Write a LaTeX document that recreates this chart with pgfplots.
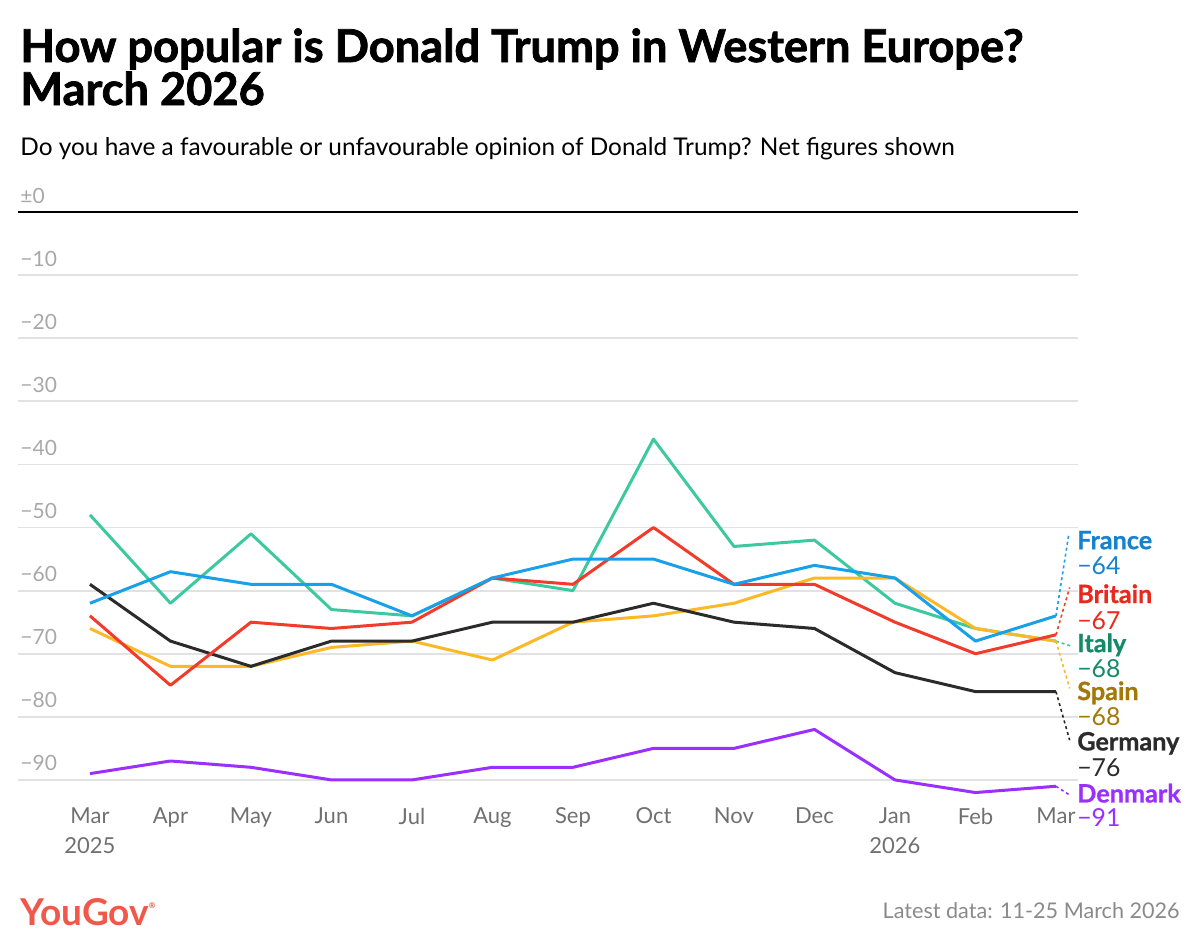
\documentclass[border=0pt]{standalone}
\usepackage{pgfplots}
\pgfplotsset{compat=1.18}
\usepackage{fontspec}
\setmainfont{Lato}
\newfontfamily\heavyfont{Lato}[BoldFeatures={FakeBold=1.7}]
\newfontfamily\labfont{Lato}[BoldFeatures={FakeBold=0.8}]
\definecolor{frline}{HTML}{1AA0E8}
\definecolor{frtxt}{HTML}{1583CC}
\definecolor{brline}{HTML}{F23B2B}
\definecolor{brtxt}{HTML}{E8291C}
\definecolor{itline}{HTML}{3DC9A0}
\definecolor{ittxt}{HTML}{138A68}
\definecolor{spline}{HTML}{FDB827}
\definecolor{sptxt}{HTML}{A37809}
\definecolor{deline}{HTML}{2B2B2B}
\definecolor{dkline}{HTML}{9B2FFF}
\definecolor{gridgray}{HTML}{E2E2E2}
\definecolor{ytickgray}{HTML}{A8A8A8}
\definecolor{xtickgray}{HTML}{707070}
\definecolor{yougov}{HTML}{F0584A}
\definecolor{footgray}{HTML}{8A8A8A}
\begin{document}
\begin{tikzpicture}
\path[use as bounding box] (0,0) rectangle (600pt,-475pt);
\node[anchor=base west, inner sep=0pt, font=\heavyfont\fontsize{22.6}{27}\selectfont\bfseries] at (10pt,-31pt) {How popular is Donald Trump in Western Europe?};
\node[anchor=base west, inner sep=0pt, font=\heavyfont\fontsize{22.6}{27}\selectfont\bfseries] at (10pt,-52.5pt) {March 2026};
\node[anchor=base west, inner sep=0pt, font=\fontsize{12.2}{14}\selectfont] at (10pt,-77.5pt) {Do you have a favourable or unfavourable opinion of Donald Trump? Net figures shown};
\node[anchor=base west, inner sep=0pt, text=yougov, font=\fontsize{18.5}{20}\selectfont\bfseries] at (10pt,-462.5pt) {YouGov\raisebox{8.5pt}{\fontsize{4}{4}\selectfont\textregistered}};
\node[anchor=base east, inner sep=0pt, text=footgray, font=\fontsize{10.8}{13}\selectfont] at (590pt,-459pt) {Latest data: 11-25 March 2026};
\begin{axis}[
  at={(9pt,-106pt)}, anchor=north west,
  x=40.25pt, y=3.155pt,
  xmin=-0.894, xmax=12.27, ymin=-92, ymax=0,
  clip=false,
  axis line style={draw=none},
  major tick length=0pt,
  ymajorgrids,
  grid style={draw=gridgray, line width=0.9pt},
  /pgf/number format/assume math mode=true,
  ytick={-90,-80,-70,-60,-50,-40,-30,-20,-10,0},
  yticklabels={−90,−80,−70,−60,−50,−40,−30,−20,−10,±0},
  yticklabel style={anchor=base west, inner sep=0pt, xshift=1pt, yshift=4.5pt, text=ytickgray, font=\fontsize{10.5}{12}\selectfont},
  xtick={0,1,2,3,4,5,6,7,8,9,10,11,12},
  xticklabels={{Mar\\2025},Apr,May,Jun,Jul,Aug,Sep,Oct,Nov,Dec,{Jan\\2026},Feb,Mar},
  xticklabel style={anchor=north, inner sep=0pt, yshift=-7.5pt, align=center, text=xtickgray, font=\fontsize{11}{15}\selectfont},
  every axis plot/.append style={line width=1.5pt, line join=round, mark=none},
]
\addplot[itline] coordinates {(0,-48)(1,-62)(2,-51)(3,-63)(4,-64)(5,-58)(6,-60)(7,-36)(8,-53)(9,-52)(10,-62)(11,-66)(12,-68)};
\addplot[spline] coordinates {(0,-66)(1,-72)(2,-72)(3,-69)(4,-68)(5,-71)(6,-65)(7,-64)(8,-62)(9,-58)(10,-58)(11,-66)(12,-68)};
\addplot[deline] coordinates {(0,-59)(1,-68)(2,-72)(3,-68)(4,-68)(5,-65)(6,-65)(7,-62)(8,-65)(9,-66)(10,-73)(11,-76)(12,-76)};
\addplot[brline] coordinates {(0,-64)(1,-75)(2,-65)(3,-66)(4,-65)(5,-58)(6,-59)(7,-50)(8,-59)(9,-59)(10,-65)(11,-70)(12,-67)};
\addplot[frline] coordinates {(0,-62)(1,-57)(2,-59)(3,-59)(4,-64)(5,-58)(6,-55)(7,-55)(8,-59)(9,-56)(10,-58)(11,-68)(12,-64)};
\addplot[dkline] coordinates {(0,-89)(1,-87)(2,-88)(3,-90)(4,-90)(5,-88)(6,-88)(7,-85)(8,-85)(9,-82)(10,-90)(11,-92)(12,-91)};
\draw[black, line width=1pt] (axis cs:-0.894,0) -- (axis cs:12.27,0);
% leader lines
\draw[frline, line width=0.8pt, dash pattern=on 1.5pt off 1.5pt] (axis cs:12,-64) -- (axis cs:12.16,-51);
\draw[brline, line width=0.8pt, dash pattern=on 1.5pt off 1.5pt] (axis cs:12,-67) -- (axis cs:12.17,-59.5);
\draw[itline, line width=0.8pt, dash pattern=on 1.5pt off 1.5pt] (axis cs:12,-68) -- (axis cs:12.19,-68.8);
\draw[spline, line width=0.8pt, dash pattern=on 1.5pt off 1.5pt] (axis cs:12,-68) -- (axis cs:12.17,-75.5);
\draw[deline, line width=0.8pt, dash pattern=on 1.5pt off 1.5pt] (axis cs:12,-76) -- (axis cs:12.17,-83.7);
\draw[dkline, line width=0.8pt, dash pattern=on 1.5pt off 1.5pt] (axis cs:12,-91) -- (axis cs:12.17,-92.4);
% labels
\node[anchor=west, inner sep=0pt, text=frtxt, font=\labfont\fontsize{12.6}{14}\selectfont\bfseries] at (axis cs:12.26,-52.0) {France};
\node[anchor=west, inner sep=0pt, text=frtxt, font=\fontsize{12.4}{14}\selectfont] at (axis cs:12.26,-56.1) {−64};
\node[anchor=west, inner sep=0pt, text=brtxt, font=\labfont\fontsize{12.6}{14}\selectfont\bfseries] at (axis cs:12.26,-60.5) {Britain};
\node[anchor=west, inner sep=0pt, text=brtxt, font=\fontsize{12.4}{14}\selectfont] at (axis cs:12.26,-64.7) {−67};
\node[anchor=west, inner sep=0pt, text=ittxt, font=\labfont\fontsize{12.6}{14}\selectfont\bfseries] at (axis cs:12.26,-68.6) {Italy};
\node[anchor=west, inner sep=0pt, text=ittxt, font=\fontsize{12.4}{14}\selectfont] at (axis cs:12.26,-72.4) {−68};
\node[anchor=west, inner sep=0pt, text=sptxt, font=\labfont\fontsize{12.6}{14}\selectfont\bfseries] at (axis cs:12.26,-76.2) {Spain};
\node[anchor=west, inner sep=0pt, text=sptxt, font=\fontsize{12.4}{14}\selectfont] at (axis cs:12.26,-80.0) {−68};
\node[anchor=west, inner sep=0pt, text=deline, font=\labfont\fontsize{12.6}{14}\selectfont\bfseries] at (axis cs:12.26,-84.2) {Germany};
\node[anchor=west, inner sep=0pt, text=deline, font=\fontsize{12.4}{14}\selectfont] at (axis cs:12.26,-88.1) {−76};
\node[anchor=west, inner sep=0pt, text=dkline, font=\labfont\fontsize{12.6}{14}\selectfont\bfseries] at (axis cs:12.26,-92.1) {Denmark};
\node[anchor=west, inner sep=0pt, text=dkline, font=\fontsize{12.4}{14}\selectfont] at (axis cs:12.26,-95.9) {−91};
\end{axis}
\end{tikzpicture}
\end{document}
